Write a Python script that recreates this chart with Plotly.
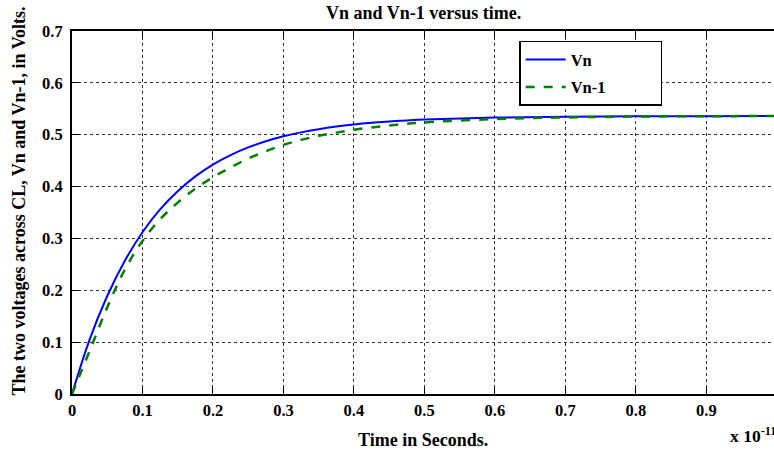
import plotly.graph_objects as go

# time samples (units of 1e-11 s) and the two node voltages
t = [0, 0.025, 0.05, 0.075, 0.1, 0.125, 0.15, 0.175, 0.2, 0.225, 0.25,
     0.275, 0.3, 0.325, 0.35, 0.375, 0.4, 0.425, 0.45, 0.475, 0.5,
     0.6, 0.7, 0.8, 0.9, 1.0]
vn = [0, 0.105, 0.189, 0.257, 0.312, 0.356, 0.391, 0.4196, 0.4424, 0.4607,
      0.4755, 0.4873, 0.4969, 0.5045, 0.5107, 0.5157, 0.5197, 0.5229, 0.5255,
      0.5275, 0.5292, 0.533, 0.5345, 0.5354, 0.5358, 0.536]
vn1 = [0, 0.083, 0.167, 0.240, 0.295, 0.337, 0.369, 0.396, 0.418, 0.437,
       0.454, 0.468, 0.4805, 0.490, 0.498, 0.504, 0.5095, 0.514, 0.5178,
       0.521, 0.5237, 0.5302, 0.5333, 0.535, 0.5357, 0.536]

x_ticks = [0, 0.1, 0.2, 0.3, 0.4, 0.5, 0.6, 0.7, 0.8, 0.9, 1]
x_labels = ["0", "0.1", "0.2", "0.3", "0.4", "0.5", "0.6", "0.7", "0.8", "0.9", "1"]
y_ticks = [0, 0.1, 0.2, 0.3, 0.4, 0.5, 0.6, 0.7]
y_labels = ["0", "0.1", "0.2", "0.3", "0.4", "0.5", "0.6", "0.7"]
x_view = [0, 0.996]   # the axes box runs slightly past the right page edge

SERIF = "Liberation Serif, Times New Roman, serif"
TICK_SIZE = 16.5
LABEL_SIZE = 18
pad = "\u00a0" * 12

fig = go.Figure()
fig.add_trace(go.Scatter(
    x=t, y=vn, mode="lines", name="Vn" + pad, legendgroup="a",
    line=dict(color="#0000ff", width=2, shape="spline"),
))
fig.add_trace(go.Scatter(
    x=t, y=vn1, mode="lines", name="Vn-1" + pad, legendgroup="b",
    line=dict(color="#008000", width=2.5, dash="dash", shape="spline"),
))

axis_common = dict(
    showgrid=True, gridcolor="#333333", griddash="dot", gridwidth=1,
    showline=True, linecolor="black", linewidth=2,
    ticks="inside", ticklen=7, tickcolor="black", tickwidth=1,
    tickfont=dict(family=SERIF, size=TICK_SIZE, color="black", weight="bold"),
    zeroline=False, ticklabeloverflow="allow",
)

fig.update_xaxes(range=x_view, tickvals=x_ticks, ticktext=x_labels,
                 mirror="ticks", **axis_common)
fig.update_yaxes(range=[0, 0.7], tickvals=y_ticks, ticktext=y_labels,
                 mirror=False, ticklabelstandoff=4, **axis_common)

# last x tick label sits on the page edge, just past the visible axis range
edge_x = (x_ticks[-1] - x_view[0]) / (x_view[1] - x_view[0])
edge_label = dict(text=x_labels[-1], xref="paper", yref="paper", x=edge_x,
                  y=0, yshift=-13, showarrow=False, yanchor="middle",
                  xanchor="center",
                  font=dict(family=SERIF, size=TICK_SIZE, color="black", weight="bold"))

fig.update_layout(
    width=774, height=454,
    margin=dict(l=72, r=0, t=31, b=60),
    plot_bgcolor="white", paper_bgcolor="white",
    showlegend=True,
    legend=dict(
        x=0.637, y=0.973, xanchor="left", yanchor="top",
        bordercolor="black", borderwidth=1.5, bgcolor="white",
        font=dict(family=SERIF, size=TICK_SIZE, color="black", weight="bold"),
        traceorder="grouped", tracegroupgap=3, itemwidth=40,
    ),
    annotations=[
        dict(text="Vn and Vn-1 versus time.", xref="paper", yref="paper",
             x=0.5, y=1, yshift=18, showarrow=False, yanchor="middle",
             font=dict(family=SERIF, size=LABEL_SIZE, color="black", weight="bold")),
        dict(text="Time in Seconds.", xref="paper", yref="paper",
             x=0.5, y=0, yshift=-46, showarrow=False, yanchor="middle",
             font=dict(family=SERIF, size=LABEL_SIZE, color="black", weight="bold")),
        dict(text="The two voltages across CL, Vn and Vn-1, in Volts.",
             xref="paper", yref="paper", x=0, xshift=-54, y=0.5, yshift=11,
             showarrow=False, textangle=-90, xanchor="center",
             font=dict(family=SERIF, size=LABEL_SIZE, color="black", weight="bold")),
        dict(text="x 10<sup>-11</sup>", xref="paper", yref="paper",
             x=0.934, y=0, yshift=-41, showarrow=False, xanchor="left",
             yanchor="middle",
             font=dict(family=SERIF, size=17.5, color="black", weight="bold")),
        edge_label,
    ],
)

fig.write_html("out.html")
